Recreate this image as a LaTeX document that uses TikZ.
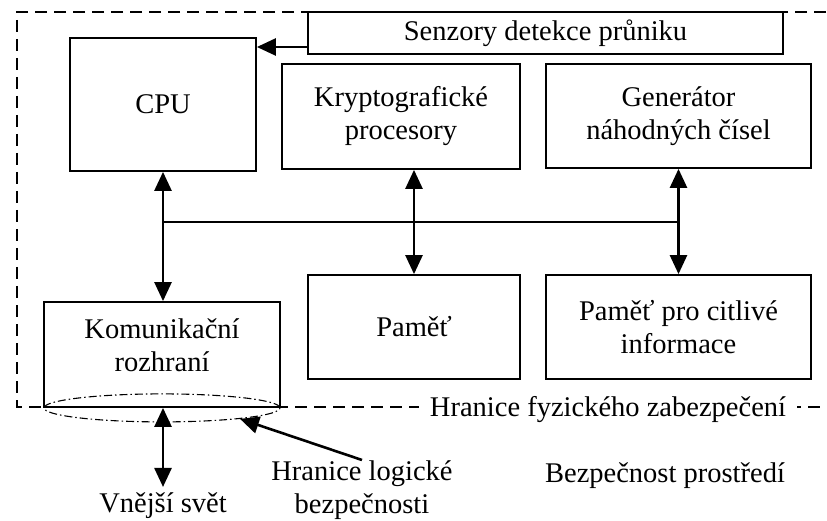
\documentclass[tikz,border=0pt]{standalone}
\usepackage{fontspec}
\setmainfont{Liberation Serif}
\usetikzlibrary{arrows.meta,shapes.geometric,calc}
\begin{document}
\begin{tikzpicture}[x=1pt,y=-1pt,
  every node/.style={font=\fontsize{28.5}{33}\selectfont, inner sep=0pt},
  box/.style={draw, line width=1.8pt, fill=white, align=center},
  bigtri/.tip={Triangle[length=19pt 0,width=17pt 0]},
  arr/.style={-bigtri, line width=2.6pt},
  darr/.style={bigtri-bigtri, line width=2.6pt},
  bus/.style={line width=2.2pt},
  phys/.style={line width=1.6pt, dash pattern=on 12pt off 7pt},
  dashdot/.style={line width=1.1pt, dash pattern=on 8pt off 3pt on 1.5pt off 3pt}]
\clip (0,0) rectangle (827,521);
\fill[white] (0,0) rectangle (827,521);
% physical security boundary
\coordinate (pTR) at (845,12);
\coordinate (pTL) at (17,12);
\coordinate (pBL) at (17,407);
\coordinate (pBR) at (845,407);
\draw[phys] (pTR) -- (pTL) -- (pBL) -- (pBR);
% boxes
\node[box, minimum width=186pt, minimum height=133pt] (cpu) at (163,104.5) {CPU};
\node[box, minimum width=238pt, minimum height=105pt] (krypto) at (401,116.5) {Kryptografické\\procesory};
\node[box, minimum width=265pt, minimum height=104pt] (gen) at (678.5,116) {Generátor\\náhodných čísel};
\node[box, minimum width=475pt, minimum height=42pt] (senz) at (545.5,33) {Senzory detekce průniku};
\node[box, minimum width=236pt, minimum height=105pt] (komm) at (162,354.5) {};
\node[align=center] (kommtxt) at ([yshift=9pt]komm.center) {Komunikační\\rozhraní};
\node[box, minimum width=212pt, minimum height=104pt] (pamet) at (414,327) {Paměť};
\node[box, minimum width=265pt, minimum height=104pt] (citl) at (678.5,327) {Paměť pro citlivé\\informace};
% logical boundary
\node[draw, ellipse, dashdot, minimum width=236pt, minimum height=28pt] (logb) at (komm.south) {};
% label of the physical boundary
\node[fill=white, inner xsep=11pt, inner ysep=3pt, anchor=base] (phystxt) at (608,416) {Hranice fyzického zabezpečení};
% outside texts
\node[anchor=base, inner ysep=5pt] (svet) at (163,512) {Vnější svět};
\node[anchor=base, align=center] (logtxt) at (362,513) {Hranice logické\\bezpečnosti};
\node[anchor=base] (env) at (665,482) {Bezpečnost prostředí};
% connectors
\coordinate (sz) at ([yshift=-14pt]senz.west);
\draw[arr] (sz) -- (sz -| cpu.east);
\coordinate (busY) at (0,222);
\draw[bus] (cpu.south |- busY) -- (gen.south |- busY);
\draw[darr] (cpu.south) -- (cpu.south |- komm.north);
\draw[darr] (pamet.north |- krypto.south) -- (pamet.north);
\draw[darr] (gen.south) -- (citl.north);
\draw[darr] (svet.north |- komm.south) -- (svet.north);
\draw[arr] (logtxt.north) -- (logb.-8);
\end{tikzpicture}
\end{document}
